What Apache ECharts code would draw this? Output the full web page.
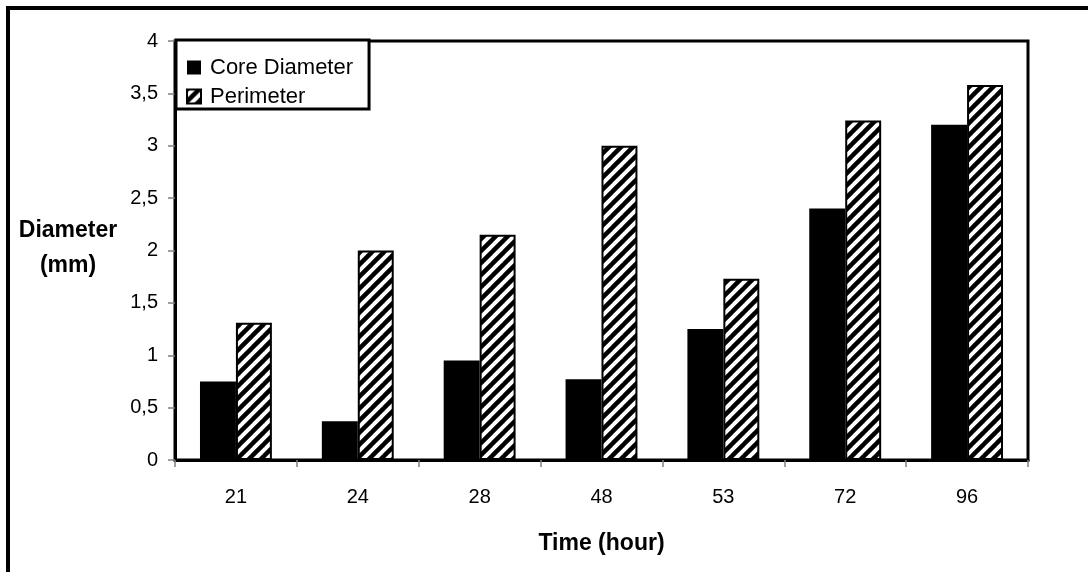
<!DOCTYPE html>
<html>
<head>
<meta charset="utf-8">
<script src="https://cdn.jsdelivr.net/npm/echarts@6/dist/echarts.min.js"></script>
<style>
  html, body { margin: 0; padding: 0; background: #fff; }
  #chart { width: 1088px; height: 572px; }
</style>
</head>
<body>
<div id="chart"></div>
<script>
// Growth of the colony diameter over time
const categories = ['21', '24', '28', '48', '53', '72', '96'];
const coreDiameter = [0.75, 0.37, 0.95, 0.77, 1.25, 2.40, 3.20];
const perimeter = [1.31, 2.00, 2.15, 3.00, 1.73, 3.24, 3.58];
const yTicks = { min: 0, max: 4, interval: 0.5 };

// Diagonal "/" hatch tile
function hatchPattern(size, lineWidth) {
  const c = document.createElement('canvas');
  c.width = size; c.height = size;
  const g = c.getContext('2d');
  g.fillStyle = '#fff';
  g.fillRect(0, 0, size, size);
  g.strokeStyle = '#000';
  g.lineWidth = lineWidth;
  g.lineCap = 'square';
  for (const off of [-size, 0, size]) {
    g.beginPath();
    g.moveTo(off, size);
    g.lineTo(off + size, 0);
    g.stroke();
  }
  return c;
}
const hatch = { image: hatchPattern(12, 4.5), repeat: 'repeat' };

const font = 'Arial, "Liberation Sans", sans-serif';
const chart = echarts.init(document.getElementById('chart'), null, { renderer: 'canvas' });

chart.setOption({
  backgroundColor: '#fff',
  animation: false,
  textStyle: { fontFamily: font, color: '#000' },
  grid: {
    left: 175, right: 60, top: 41, bottom: 112,
    show: true, borderColor: '#000', borderWidth: 3, backgroundColor: 'transparent'
  },
  legend: {
    left: 176, top: 40, orient: 'vertical',
    padding: [15, 16, 0, 10],
    itemGap: 4,
    itemWidth: 14, itemHeight: 14,
    icon: 'rect',
    backgroundColor: '#fff',
    borderColor: '#000', borderWidth: 3,
    textStyle: { fontSize: 22, fontFamily: font, color: '#000', padding: [0, 0, 0, 4], lineHeight: 25 },
    data: ['Core Diameter', 'Perimeter']
  },
  xAxis: {
    type: 'category',
    data: categories,
    name: 'Time (hour)',
    nameLocation: 'middle',
    nameGap: 72,
    nameTextStyle: { fontSize: 23, fontWeight: 'bold', fontFamily: font, color: '#000' },
    axisLine: { lineStyle: { color: '#000', width: 3 } },
    axisTick: { show: true, length: 7, lineStyle: { color: '#808080', width: 1.5 } },
    axisLabel: { fontSize: 20, color: '#000', margin: 27, fontFamily: font }
  },
  yAxis: {
    type: 'value',
    min: yTicks.min, max: yTicks.max, interval: yTicks.interval,
    splitLine: { show: false },
    axisLine: { show: true, lineStyle: { color: '#000', width: 3 } },
    axisTick: { show: true, length: 7, lineStyle: { color: '#808080', width: 1.5 } },
    axisLabel: {
      fontSize: 20, color: '#000', margin: 17, fontFamily: font,
      formatter: v => String(v).replace('.', ',')
    }
  },
  graphic: [
    {
      type: 'text',
      style: {
        x: 68, y: 213,
        text: 'Diameter\n(mm)', fontSize: 23, fontWeight: 'bold', fontFamily: font,
        fill: '#000', align: 'center', verticalAlign: 'top', lineHeight: 35
      }
    },
    { type: 'line', shape: { x1: 6, y1: 8, x2: 1088, y2: 8 }, style: { stroke: '#000', lineWidth: 4 } },
    { type: 'line', shape: { x1: 8, y1: 6, x2: 8, y2: 572 }, style: { stroke: '#000', lineWidth: 4 } }
  ],
  series: [
    {
      name: 'Core Diameter', type: 'bar', data: coreDiameter,
      barGap: '0%', barCategoryGap: '41%',
      itemStyle: { color: '#000' }
    },
    {
      name: 'Perimeter', type: 'bar', data: perimeter,
      itemStyle: { color: hatch, borderColor: '#000', borderWidth: 2 }
    }
  ]
});
</script>
</body>
</html>
